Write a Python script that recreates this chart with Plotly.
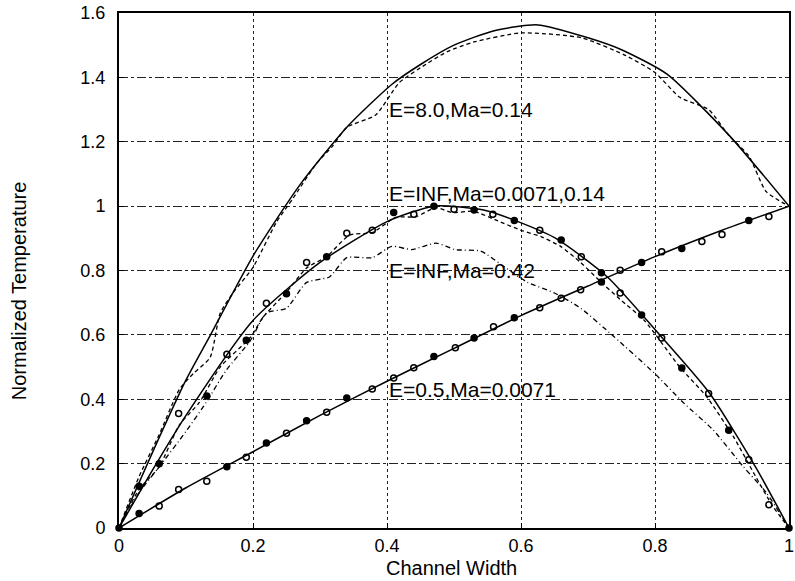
import plotly.graph_objects as go

# ---- data ----
e8_solid_x = [0, 0.05, 0.1, 0.136, 0.2, 0.27, 0.34, 0.407, 0.45, 0.5, 0.56, 0.625, 0.7, 0.75, 0.818, 0.911, 1.0]
e8_solid_y = [0, 0.235, 0.46, 0.598, 0.845, 1.066, 1.245, 1.378, 1.44, 1.50, 1.545, 1.563, 1.523, 1.486, 1.41, 1.219, 1.0]

e8_dash_x = [0, 0.03, 0.06, 0.09, 0.111, 0.136, 0.151, 0.17, 0.2, 0.235, 0.26, 0.295, 0.319, 0.34,
             0.383, 0.418, 0.45, 0.49, 0.53, 0.6, 0.69, 0.754, 0.8, 0.837, 0.88, 0.91, 0.94, 0.966, 1.0]
e8_dash_y = [0, 0.16, 0.29, 0.43, 0.48, 0.53, 0.667, 0.73, 0.81, 0.95, 1.025, 1.133, 1.187, 1.245,
             1.283, 1.383, 1.43, 1.48, 1.51, 1.538, 1.523, 1.47, 1.415, 1.338, 1.30, 1.22, 1.156, 1.045, 1.0]

inf_solid_x = [0, 0.05, 0.1, 0.2, 0.3, 0.4, 0.47, 0.55, 0.65, 0.729, 0.807, 0.881, 0.95, 1.0]
inf_solid_y = [0, 0.18, 0.35, 0.645, 0.825, 0.952, 1.0, 0.985, 0.902, 0.78, 0.6, 0.42, 0.19, 0]

inf_fill_x = [0, 0.03, 0.06, 0.131, 0.19, 0.25, 0.31, 0.41, 0.47, 0.53, 0.59, 0.66, 0.72, 0.78, 0.84, 0.91, 1.0]
inf_fill_y = [0, 0.13, 0.2, 0.41, 0.583, 0.728, 0.843, 0.98, 1.0, 0.988, 0.955, 0.895, 0.793, 0.662, 0.497, 0.304, 0]
inf_open_x = [0.089, 0.161, 0.22, 0.28, 0.34, 0.378, 0.44, 0.5, 0.558, 0.628, 0.69, 0.748, 0.81, 0.88, 0.94, 0.97]
inf_open_y = [0.356, 0.54, 0.698, 0.825, 0.916, 0.925, 0.975, 0.99, 0.975, 0.925, 0.843, 0.73, 0.59, 0.418, 0.212, 0.072]

inf_dash_x = [0, 0.03, 0.06, 0.09, 0.12, 0.151, 0.196, 0.215, 0.25, 0.28, 0.31, 0.344, 0.378, 0.413, 0.443,
              0.473, 0.497, 0.529, 0.561, 0.6, 0.63, 0.659, 0.689, 0.719, 0.748, 0.784, 0.837, 0.877, 0.917,
              0.947, 0.976, 1.0]
inf_dash_y = [0, 0.12, 0.19, 0.32, 0.39, 0.5, 0.592, 0.655, 0.733, 0.808, 0.843, 0.91, 0.918, 0.965, 0.967,
              0.995, 0.98, 0.984, 0.958, 0.925, 0.905, 0.875, 0.825, 0.765, 0.71, 0.645, 0.5, 0.408, 0.284,
              0.172, 0.067, 0]

ma42_x = [0, 0.03, 0.06, 0.1, 0.13, 0.16, 0.196, 0.22, 0.25, 0.28, 0.314, 0.34, 0.378, 0.407, 0.437,
          0.473, 0.502, 0.54, 0.576, 0.61, 0.65, 0.689, 0.739, 0.799, 0.843, 0.887, 0.932, 0.966, 1.0]
ma42_y = [0, 0.11, 0.19, 0.3, 0.39, 0.49, 0.582, 0.668, 0.683, 0.763, 0.78, 0.84, 0.84, 0.875, 0.865,
          0.885, 0.865, 0.86, 0.81, 0.763, 0.73, 0.683, 0.594, 0.481, 0.388, 0.304, 0.19, 0.11, 0]

e05_solid_x = [0, 0.1, 0.2, 0.3, 0.4, 0.5, 0.6, 0.7, 0.8, 0.9, 1.0]
e05_solid_y = [0, 0.125, 0.237, 0.35, 0.456, 0.558, 0.66, 0.752, 0.843, 0.925, 1.0]

e05_fill_x = [0.03, 0.161, 0.22, 0.28, 0.34, 0.47, 0.53, 0.59, 0.72, 0.78, 0.84, 0.94]
e05_fill_y = [0.045, 0.19, 0.264, 0.333, 0.404, 0.533, 0.59, 0.653, 0.764, 0.825, 0.868, 0.955]
e05_open_x = [0.06, 0.089, 0.131, 0.19, 0.25, 0.31, 0.378, 0.41, 0.44, 0.502, 0.559, 0.628, 0.66, 0.689, 0.748, 0.81, 0.87, 0.9, 0.97]
e05_open_y = [0.068, 0.12, 0.145, 0.22, 0.294, 0.36, 0.432, 0.466, 0.498, 0.56, 0.625, 0.684, 0.714, 0.74, 0.801, 0.858, 0.89, 0.912, 0.968]

labels = ["E=8.0,Ma=0.14", "E=INF,Ma=0.0071,0.14", "E=INF,Ma=0.42", "E=0.5,Ma=0.0071"]
label_x = [0.4, 0.4, 0.4, 0.4]
label_y = [1.30, 1.04, 0.80, 0.43]

x_title = "Channel Width"
y_title = "Normalized Temperature"

x_ticks = [0, 0.2, 0.4, 0.6, 0.8, 1]
x_tick_text = ["0", "0.2", "0.4", "0.6", "0.8", "1"]
y_ticks = [0, 0.2, 0.4, 0.6, 0.8, 1, 1.2, 1.4, 1.6]
y_tick_text = ["0", "0.2", "0.4", "0.6", "0.8", "1", "1.2", "1.4", "1.6"]

# ---- figure ----
FONT = "Liberation Sans, Arial, sans-serif"
fig = go.Figure()
blk = "black"

def line(x, y, dash, width=1.5, shape="spline"):
    fig.add_trace(go.Scatter(x=x, y=y, mode="lines",
                             line=dict(color=blk, width=width, dash=dash, shape=shape, smoothing=0.6),
                             showlegend=False, hoverinfo="skip"))

def marks(x, y, symbol):
    fig.add_trace(go.Scatter(x=x, y=y, mode="markers", cliponaxis=False,
                             marker=dict(symbol=symbol, size=6, color=blk,
                                         line=dict(color=blk, width=1.5)),
                             showlegend=False, hoverinfo="skip"))

line(e8_solid_x, e8_solid_y, "solid")
line(e8_dash_x, e8_dash_y, "4px,3px", width=1.3)
line(inf_solid_x, inf_solid_y, "solid")
line(inf_dash_x, inf_dash_y, "4px,3px", width=1.3)
line(ma42_x, ma42_y, "5px,3px,1px,3px", width=1.3)
line(e05_solid_x, e05_solid_y, "solid")
marks(inf_fill_x, inf_fill_y, "circle")
marks(inf_open_x, inf_open_y, "circle-open")
marks(e05_fill_x, e05_fill_y, "circle")
marks(e05_open_x, e05_open_y, "circle-open")

for t, lx, ly in zip(labels, label_x, label_y):
    fig.add_annotation(x=lx, y=ly, text=t, showarrow=False, xanchor="left", yanchor="middle",
                       font=dict(size=21, color=blk, family=FONT))

fig.add_annotation(text=x_title, xref="paper", yref="paper", x=0.497, y=-0.078,
                   xanchor="center", yanchor="middle", showarrow=False,
                   font=dict(size=20, color=blk, family=FONT))
fig.add_annotation(text=y_title, xref="paper", yref="paper", x=-0.149, y=0.46,
                   xanchor="center", yanchor="middle", showarrow=False, textangle=-90,
                   font=dict(size=20, color=blk, family=FONT))

axis_common = dict(showline=True, linecolor=blk, linewidth=2, mirror=True,
                   ticks="inside", ticklen=5, tickcolor=blk, automargin=False,
                   ticklabeloverflow="allow",
                   showgrid=True, gridcolor="#222", gridwidth=1, zeroline=False,
                   tickfont=dict(size=18, color=blk, family=FONT))

fig.update_xaxes(range=[0, 1], tickvals=x_ticks, ticktext=x_tick_text, griddash="dot",
                 **axis_common)
fig.update_yaxes(range=[0, 1.6], tickvals=y_ticks, ticktext=y_tick_text, griddash="dashdot",
                 ticklabelstandoff=8, **axis_common)

fig.update_layout(width=795, height=581, margin=dict(l=119, r=6, t=13, b=53),
                  paper_bgcolor="white", plot_bgcolor="white")

fig.write_html("out.html", config={"displayModeBar": False},
               post_script="document.body.style.margin='0';document.body.style.overflow='hidden';")
